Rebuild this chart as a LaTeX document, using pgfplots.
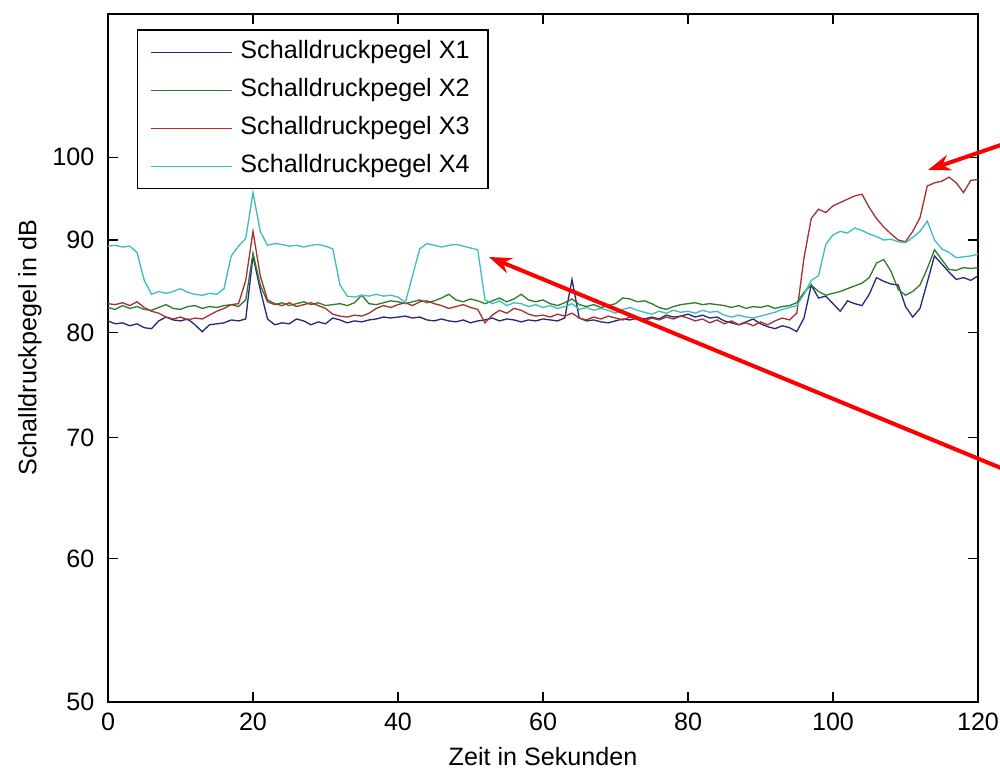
\documentclass[border=0pt]{standalone}
\usepackage{pgfplots}
\pgfplotsset{compat=1.18}
\usepackage{pgfplotstable}
\usepackage{fontspec}
\setmainfont{Liberation Sans}
\usetikzlibrary{arrows.meta}

\definecolor{cX1}{RGB}{40,40,125}
\definecolor{cX2}{RGB}{45,125,45}
\definecolor{cX3}{RGB}{165,50,50}
\definecolor{cX4}{RGB}{60,190,190}

% Zeit (s) und Schalldruckpegel (dB) der vier Messpunkte
\pgfplotstableread{
t   x1   x2   x3   x4
0   81.2 82.6 83.0 89.3
1   80.9 82.4 82.9 89.4
2   81.0 82.8 83.1 89.2
3   80.7 82.5 82.8 89.3
4   80.9 82.7 83.2 88.6
5   80.5 82.4 82.6 85.5
6   80.4 82.3 82.2 84.0
7   81.2 82.6 82.0 84.3
8   81.6 82.9 81.6 84.1
9   81.3 82.5 81.4 84.3
10  81.2 82.4 81.6 84.6
11  81.4 82.7 81.3 84.2
12  80.8 82.8 81.5 84.0
13  80.1 82.5 81.4 83.9
14  80.8 82.7 81.8 84.1
15  80.9 82.6 82.2 84.0
16  81.0 82.8 82.5 84.6
17  81.3 82.9 82.9 88.2
18  81.2 82.7 83.0 89.3
19  81.4 83.4 85.5 90.2
20  88.2 88.5 91.0 95.6
21  84.5 85.0 86.0 91.0
22  81.4 83.2 83.4 89.4
23  80.8 82.9 83.0 89.6
24  81.0 83.1 82.8 89.5
25  80.9 82.8 83.1 89.3
26  81.4 83.0 82.7 89.4
27  81.2 83.2 82.9 89.2
28  80.8 82.9 83.1 89.4
29  81.1 83.1 82.8 89.5
30  80.9 82.8 82.5 89.3
31  81.5 82.9 81.9 89.0
32  81.3 83.0 81.7 85.0
33  81.0 82.8 81.6 83.8
34  81.2 83.1 81.8 83.7
35  81.1 83.9 81.7 83.9
36  81.3 83.0 82.0 83.8
37  81.4 82.9 82.5 84.0
38  81.6 83.1 82.8 83.8
39  81.5 83.3 82.6 83.9
40  81.6 83.2 82.9 83.7
41  81.7 83.0 83.1 83.1
42  81.5 83.2 82.8 86.0
43  81.6 83.4 83.2 89.0
44  81.3 83.1 83.3 89.6
45  81.2 83.3 83.0 89.4
46  81.4 83.6 82.8 89.2
47  81.2 84.0 82.5 89.4
48  81.1 83.4 82.7 89.5
49  81.3 83.2 82.9 89.3
50  81.0 83.5 82.6 89.1
51  81.2 83.3 82.4 88.9
52  81.3 83.0 81.0 83.4
53  81.5 83.3 81.8 83.0
54  81.2 83.6 82.3 83.3
55  81.4 83.2 82.0 82.8
56  81.3 83.5 82.5 83.1
57  81.1 84.0 82.3 83.0
58  81.3 83.4 81.9 82.7
59  81.2 83.2 81.7 82.9
60  81.4 83.4 81.8 82.6
61  81.3 83.0 81.6 82.8
62  81.2 82.8 81.9 82.5
63  81.5 83.1 81.7 82.7
64  85.6 83.5 82.0 83.0
65  81.5 82.9 81.5 82.4
66  81.2 82.7 81.3 82.6
67  81.3 82.9 81.6 82.3
68  81.1 82.6 81.4 82.5
69  81.0 82.8 81.7 82.3
70  81.2 83.0 81.5 82.0
71  81.4 83.6 81.3 82.4
72  81.3 83.5 81.6 82.6
73  81.5 83.2 81.4 82.3
74  81.4 83.3 81.2 82.1
75  81.6 83.0 81.5 81.9
76  81.4 82.6 81.3 82.2
77  81.8 82.4 81.6 82.0
78  81.6 82.7 81.4 82.3
79  81.7 82.9 81.7 82.1
80  81.9 83.0 81.5 82.2
81  81.6 83.1 81.2 82.0
82  81.8 82.9 81.4 82.3
83  81.5 83.0 81.0 82.1
84  81.6 82.9 81.3 82.2
85  81.2 82.8 80.9 81.8
86  81.0 82.6 81.2 81.6
87  80.8 82.8 80.8 81.8
88  81.1 82.5 81.0 81.6
89  81.4 82.7 80.7 81.5
90  80.9 82.6 81.1 81.7
91  80.6 82.8 80.8 81.9
92  80.4 82.5 81.2 82.1
93  80.7 82.7 81.5 82.4
94  80.5 82.8 81.3 82.6
95  80.1 83.1 82.0 82.8
96  81.5 84.2 88.0 84.0
97  85.0 85.0 92.5 85.5
98  83.6 84.3 93.6 86.0
99  83.8 83.9 93.2 89.5
100 83.0 84.1 94.0 90.6
101 82.2 84.3 94.4 91.0
102 83.3 84.6 94.8 90.8
103 83.0 84.9 95.2 91.4
104 82.8 85.2 95.4 91.1
105 84.0 85.8 93.8 90.7
106 85.8 87.4 92.5 90.4
107 85.4 87.8 91.5 90.0
108 85.1 86.5 90.7 90.1
109 85.0 84.5 90.0 89.8
110 82.7 83.9 89.8 89.7
111 81.6 84.3 91.0 90.3
112 82.5 85.0 92.6 91.0
113 85.3 86.8 96.4 92.2
114 88.2 88.9 96.8 90.0
115 87.3 87.8 97.0 89.0
116 86.4 86.7 97.5 88.6
117 85.6 86.6 96.8 88.0
118 85.8 86.9 95.6 88.1
119 85.5 86.8 97.1 88.2
120 86.0 86.9 97.2 88.4
}\messdaten

\begin{document}
\begin{tikzpicture}[x=1cm,y=1cm]
\fontsize{14.3}{16}\selectfont
\begin{axis}[
  at={(2.16cm,1.36cm)}, anchor=south west,
  scale only axis, width=17.4cm, height=13.76cm,
  xmin=0, xmax=120, ymin=50, ymax=120,
  ymode=log, yminorticks=false,
  xtick={0,20,...,120},
  ytick={50,60,70,80,90,100},
  yticklabels={50,60,70,80,90,100},
  tick align=inside, major tick length=0.2cm,
  axis line style={line width=1pt},
  every tick/.style={black, line width=0.8pt},
  font=\fontsize{14.3}{16}\selectfont,
  ticklabel style={font=\fontsize{14.3}{16}\selectfont},
  /pgf/number format/assume math mode=true,
  xticklabel style={yshift=-0.05cm},
  yticklabel style={xshift=-0.1cm},
  xlabel={Zeit in Sekunden},
  ylabel={Schalldruckpegel in dB},
  xlabel style={at={(axis description cs:0.5,-0.08)}, anchor=center},
  ylabel style={at={(axis description cs:-0.0897,0.515)}, anchor=center},
  legend cell align=left,
  legend style={at={(0.0333,0.978)}, anchor=north west, draw=black,
    line width=0.8pt, inner xsep=0.25cm, inner ysep=2pt,
    nodes={inner ysep=4.3pt, inner xsep=0.12cm, text height=10pt, text depth=3pt},
    /tikz/every odd column/.append style={column sep=0.04cm},
    font=\fontsize{14.3}{16}\selectfont},
  legend image code/.code={\draw[#1] (0cm,0cm) -- (1.62cm,0cm);},
  every axis plot/.append style={line width=0.75pt},
]
\addplot[cX1] table[x=t, y=x1] {\messdaten};
\addlegendentry{Schalldruckpegel X1}
\addplot[cX2] table[x=t, y=x2] {\messdaten};
\addlegendentry{Schalldruckpegel X2}
\addplot[cX3] table[x=t, y=x3] {\messdaten};
\addlegendentry{Schalldruckpegel X3}
\addplot[cX4] table[x=t, y=x4] {\messdaten};
\addlegendentry{Schalldruckpegel X4}
\end{axis}
% rote Hinweispfeile
\draw[red, line width=2.3pt, -{Stealth[length=0.45cm, width=0.32cm]}]
  (20.6,12.7) -- (18.56,12.0);
\draw[red, line width=2.3pt, -{Stealth[length=0.45cm, width=0.32cm]}]
  (20.6,5.8) -- (9.78,10.26);
\pgfresetboundingbox
\useasboundingbox (0,0) rectangle (20,15.4);
\end{tikzpicture}
\end{document}
